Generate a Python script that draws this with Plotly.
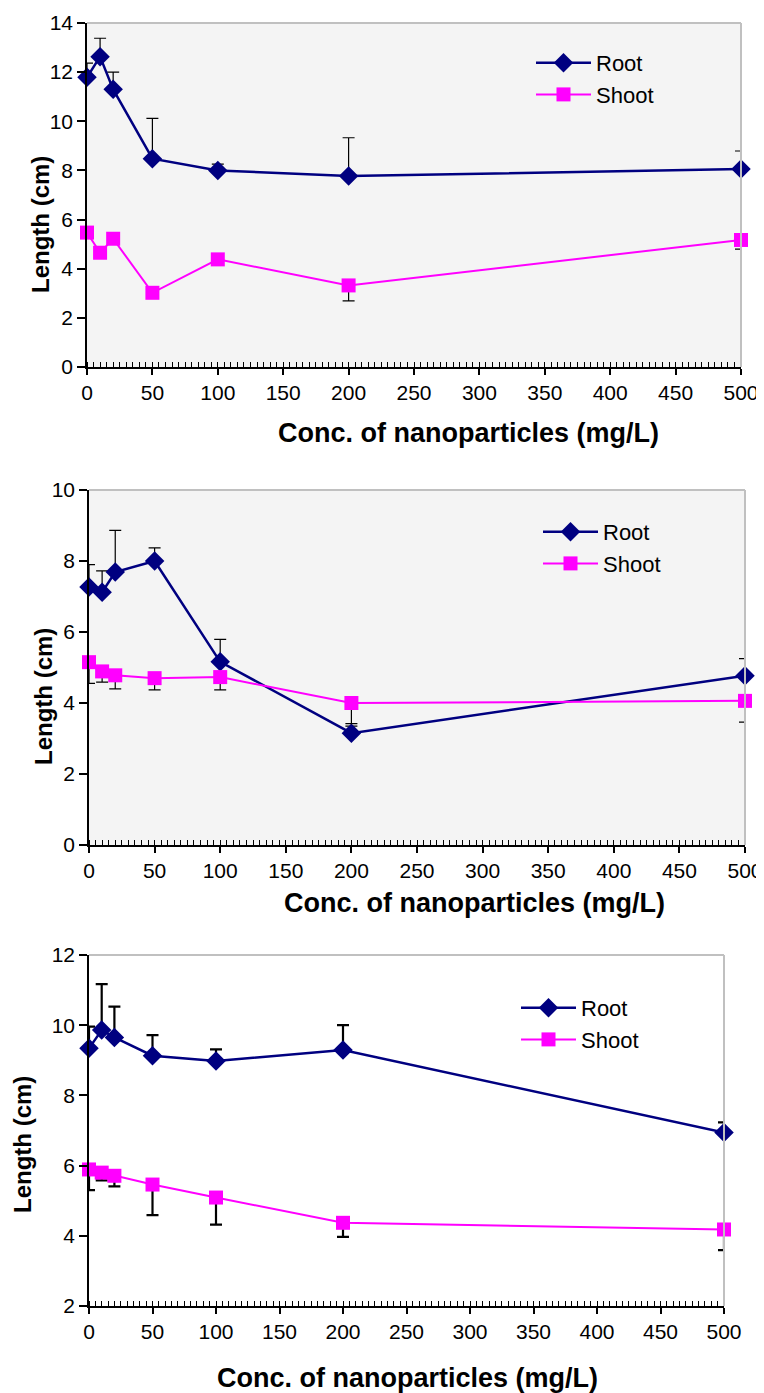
import plotly.graph_objects as go

# ---------------- data ----------------
conc = [0, 10, 20, 50, 100, 200, 500]

root_a = [11.79, 12.63, 11.30, 8.48, 8.00, 7.77, 8.06]
root_a_err = [0.58, 0.75, 0.70, 1.64, 0.26, 1.56, 0.73]
shoot_a = [5.47, 4.65, 5.22, 3.02, 4.38, 3.32, 5.17]
shoot_a_err = [0.2, 0.2, 0.2, 0.2, 0.2, 0.63, 0.37]

root_b = [7.27, 7.12, 7.69, 8.00, 5.16, 3.15, 4.77]
root_b_err = [0.63, 0.60, 1.17, 0.37, 0.63, 0.20, 0.48]
shoot_b = [5.15, 4.89, 4.78, 4.70, 4.73, 4.00, 4.06]
shoot_b_err = [0.60, 0.30, 0.38, 0.33, 0.36, 0.58, 0.60]

root_c = [9.34, 9.86, 9.65, 9.13, 8.98, 9.29, 6.94]
root_c_err = [0.62, 1.31, 0.88, 0.59, 0.33, 0.71, 0.29]
shoot_c = [5.89, 5.80, 5.71, 5.46, 5.09, 4.37, 4.18]
shoot_c_err = [0.59, 0.22, 0.30, 0.87, 0.77, 0.40, 0.59]

series_names = ["Root", "Shoot"]
x_title = "Conc. of nanoparticles (mg/L)"
y_title = "Length (cm)"
y_ranges = [[0, 14], [0, 10], [2, 12]]

# ---------------- layout helpers ----------------
OFF = 8                      # page body margin
W, H = 764 - OFF, 1393 - OFF
FONT = "Arial, Liberation Sans, sans-serif"
ROOT_C = "#000080"
SHOOT_C = "#FF00FF"


def px(xp):
    return (xp - OFF) / W


def py(yp):
    return 1 - (yp - OFF) / H


# plot boxes in page pixels: (left, right, top, bottom)
boxes = [(87, 741, 23, 367), (89, 745, 490, 845), (89, 724, 955, 1306)]
bgs = ["#f4f4f4", "#f4f4f4", "#ffffff"]
err_w = [1.2, 1.2, 2.2]
legend_pos = [(531, 42), (538, 511), (516, 987)]
xtitle_pos = [(468, 433), (474, 903), (407, 1378)]
ytitle_pos = [(40, 225), (43, 697), (22, 1145)]

data = [
    (root_a, root_a_err, shoot_a, shoot_a_err),
    (root_b, root_b_err, shoot_b, shoot_b_err),
    (root_c, root_c_err, shoot_c, shoot_c_err),
]

fig = go.Figure()
layout = dict(
    width=W, height=H, autosize=False,
    margin=dict(l=0, r=0, t=0, b=0, pad=0, autoexpand=False),
    paper_bgcolor="white",
    font=dict(family=FONT, color="black"),
    showlegend=True,
)
shapes = []
annotations = []

for i, (r, re, s, se) in enumerate(data):
    n = "" if i == 0 else str(i + 1)
    xa, ya = "x" + n, "y" + n
    leg = "legend" + n
    l, rt, t, b = boxes[i]
    fig.add_trace(go.Scatter(
        x=conc, y=r, name=series_names[0], mode="lines+markers",
        xaxis=xa, yaxis=ya, legend=leg, cliponaxis=False,
        line=dict(color=ROOT_C, width=2.5),
        marker=dict(symbol="diamond", size=15, color=ROOT_C),
        error_y=dict(type="data", symmetric=False, array=re,
                     arrayminus=[0] * len(re), color="black",
                     thickness=err_w[i], width=6),
    ))
    fig.add_trace(go.Scatter(
        x=conc, y=s, name=series_names[1], mode="lines+markers",
        xaxis=xa, yaxis=ya, legend=leg, cliponaxis=False,
        line=dict(color=SHOOT_C, width=2),
        marker=dict(symbol="square", size=14, color=SHOOT_C),
        error_y=dict(type="data", symmetric=False, array=[0] * len(se),
                     arrayminus=se, color="black",
                     thickness=err_w[i], width=6),
    ))
    layout["xaxis" + n] = dict(
        domain=[px(l), px(rt)], anchor=ya, range=[0, 500],
        tickmode="linear", tick0=0, dtick=50,
        ticks="outside", ticklen=6, tickwidth=1.5, tickcolor="black",
        minor=dict(ticks="inside", ticklen=5, dtick=5, tickwidth=1, tickcolor="black"),
        showline=True, linecolor="black", linewidth=1.5,
        showgrid=False, zeroline=False, automargin=False,
        tickfont=dict(family=FONT, size=21, color="black"),
        fixedrange=True,
    )
    layout["yaxis" + n] = dict(
        domain=[py(b), py(t)], anchor=xa, range=y_ranges[i],
        tickmode="linear", tick0=y_ranges[i][0], dtick=2,
        ticks="outside", ticklen=8, tickwidth=1.5, tickcolor="black",
        showline=True, linecolor="black", linewidth=1.5,
        showgrid=False, zeroline=False, automargin=False,
        tickfont=dict(family=FONT, size=21, color="black"),
        fixedrange=True,
    )
    layout[leg] = dict(
        x=px(legend_pos[i][0]), y=py(legend_pos[i][1]),
        xanchor="left", yanchor="top", bgcolor="rgba(0,0,0,0)",
        font=dict(family=FONT, size=22, color="black"),
        itemwidth=55, tracegroupgap=0,
    )
    # plot area background and the grey top/right frame
    shapes.append(dict(type="rect", xref=xa + " domain", yref=ya + " domain",
                       x0=0, x1=1, y0=0, y1=1, fillcolor=bgs[i],
                       line=dict(width=0), layer="below"))
    shapes.append(dict(type="line", xref=xa + " domain", yref=ya + " domain",
                       x0=0, x1=1, y0=1, y1=1, line=dict(color="#c0c0c0", width=2)))
    shapes.append(dict(type="line", xref=xa + " domain", yref=ya + " domain",
                       x0=1, x1=1, y0=0, y1=1, line=dict(color="#c0c0c0", width=2)))
    annotations.append(dict(
        text="<b>" + x_title + "</b>", xref="paper", yref="paper",
        x=px(xtitle_pos[i][0]), y=py(xtitle_pos[i][1]),
        xanchor="center", yanchor="middle", showarrow=False,
        font=dict(family=FONT, size=27, color="black"),
    ))
    annotations.append(dict(
        text="<b>" + y_title + "</b>", xref="paper", yref="paper",
        x=px(ytitle_pos[i][0]), y=py(ytitle_pos[i][1]),
        xanchor="center", yanchor="middle", showarrow=False, textangle=-90,
        font=dict(family=FONT, size=24, color="black"),
    ))

layout["shapes"] = shapes
layout["annotations"] = annotations
fig.update_layout(**layout)
fig.write_html("out.html")
